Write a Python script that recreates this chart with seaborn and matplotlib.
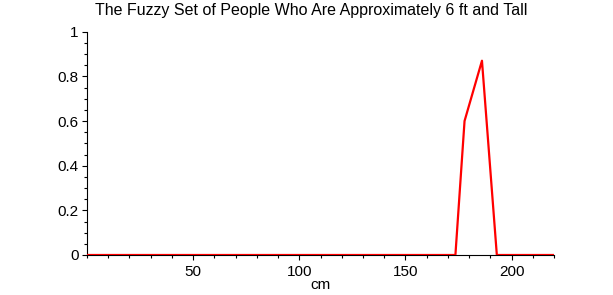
import matplotlib
matplotlib.use("Agg")
import matplotlib.pyplot as plt
import seaborn as sns
import pandas as pd
from matplotlib.ticker import MultipleLocator

# Data
height_cm = [0, 173.5, 177.8, 186.0, 193.0, 220]
membership = [0.0, 0.0, 0.6, 0.87, 0.0, 0.0]
x_ticks = [50, 100, 150, 200]
y_ticks = [0, 0.2, 0.4, 0.6, 0.8, 1]
y_tick_labels = ["0", "0.2", "0.4", "0.6", "0.8", "1"]

sns.set_style("white")
plt.rcParams["font.family"] = ["Liberation Sans", "DejaVu Sans"]
plt.rcParams["text.color"] = "black"
plt.rcParams["axes.labelcolor"] = "black"

df = pd.DataFrame({"cm": height_cm, "mu": membership})

fig = plt.figure(figsize=(6.13, 2.95), dpi=100)
ax = fig.add_axes([86.8 / 613, 40 / 295, 467.4 / 613, 223.3 / 295])

sns.lineplot(data=df, x="cm", y="mu", color="#ff0000", linewidth=1.6, ax=ax, zorder=5)

ax.set_xlim(0, 220)
ax.set_ylim(0, 1)
ax.set_xticks(x_ticks)
ax.set_xticklabels([str(t) for t in x_ticks])
ax.set_yticks(y_ticks)
ax.set_yticklabels(y_tick_labels)
ax.xaxis.set_minor_locator(MultipleLocator(10))
ax.yaxis.set_minor_locator(MultipleLocator(0.05))

for s in ["top", "right"]:
    ax.spines[s].set_visible(False)
for s in ["left", "bottom"]:
    ax.spines[s].set_color("black")
    ax.spines[s].set_linewidth(0.8)

ax.tick_params(axis="both", which="major", direction="out", length=3.5, width=0.8,
               color="black", labelsize=11, labelcolor="black", pad=2.5)
ax.tick_params(axis="both", which="minor", direction="out", length=2, width=0.8,
               color="black")
ax.tick_params(axis="x", which="both", bottom=True)
ax.tick_params(axis="y", which="both", left=True)
ax.tick_params(axis="x", which="major", pad=4)

ax.set_xlabel("cm", fontsize=11, labelpad=-1, color="black")
ax.set_ylabel("")
ax.grid(False)

fig.text(0.507, 0.963, "The Fuzzy Set of People Who Are Approximately 6 ft and Tall",
         ha="center", va="center", fontsize=11.5, color="black")

fig.savefig("out.png", dpi=100, facecolor="white")
